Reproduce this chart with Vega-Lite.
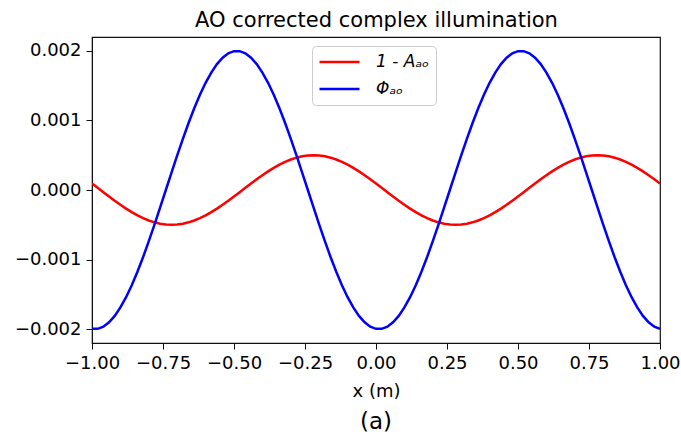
{
  "$schema": "https://vega.github.io/schema/vega-lite/v6.json",
  "width": 568,
  "height": 306,
  "autosize": "none",
  "padding": {"left": 92, "top": 37, "right": 21, "bottom": 93},
  "background": "white",
  "data": {
    "values": [
      {"x": -1.00, "a": 0.0000937, "p": -0.001996},
      {"x": -0.98, "a": 0.0000314, "p": -0.001996},
      {"x": -0.96, "a": -0.0000314, "p": -0.001965},
      {"x": -0.94, "a": -0.0000937, "p": -0.001902},
      {"x": -0.92, "a": -0.0001545, "p": -0.001810},
      {"x": -0.90, "a": -0.0002129, "p": -0.001689},
      {"x": -0.88, "a": -0.0002679, "p": -0.001541},
      {"x": -0.86, "a": -0.0003187, "p": -0.001369},
      {"x": -0.84, "a": -0.0003645, "p": -0.001176},
      {"x": -0.82, "a": -0.0004045, "p": -0.000964},
      {"x": -0.80, "a": -0.0004382, "p": -0.000736},
      {"x": -0.78, "a": -0.0004649, "p": -0.000497},
      {"x": -0.76, "a": -0.0004843, "p": -0.000251},
      {"x": -0.74, "a": -0.0004961, "p": 0},
      {"x": -0.72, "a": -0.0005, "p": 0.000251},
      {"x": -0.70, "a": -0.0004961, "p": 0.000497},
      {"x": -0.68, "a": -0.0004843, "p": 0.000736},
      {"x": -0.66, "a": -0.0004649, "p": 0.000964},
      {"x": -0.64, "a": -0.0004382, "p": 0.001176},
      {"x": -0.62, "a": -0.0004045, "p": 0.001369},
      {"x": -0.60, "a": -0.0003645, "p": 0.001541},
      {"x": -0.58, "a": -0.0003187, "p": 0.001689},
      {"x": -0.56, "a": -0.0002679, "p": 0.001810},
      {"x": -0.54, "a": -0.0002129, "p": 0.001902},
      {"x": -0.52, "a": -0.0001545, "p": 0.001965},
      {"x": -0.50, "a": -0.0000937, "p": 0.001996},
      {"x": -0.48, "a": -0.0000314, "p": 0.001996},
      {"x": -0.46, "a": 0.0000314, "p": 0.001965},
      {"x": -0.44, "a": 0.0000937, "p": 0.001902},
      {"x": -0.42, "a": 0.0001545, "p": 0.001810},
      {"x": -0.40, "a": 0.0002129, "p": 0.001689},
      {"x": -0.38, "a": 0.0002679, "p": 0.001541},
      {"x": -0.36, "a": 0.0003187, "p": 0.001369},
      {"x": -0.34, "a": 0.0003645, "p": 0.001176},
      {"x": -0.32, "a": 0.0004045, "p": 0.000964},
      {"x": -0.30, "a": 0.0004382, "p": 0.000736},
      {"x": -0.28, "a": 0.0004649, "p": 0.000497},
      {"x": -0.26, "a": 0.0004843, "p": 0.000251},
      {"x": -0.24, "a": 0.0004961, "p": 0},
      {"x": -0.22, "a": 0.0005, "p": -0.000251},
      {"x": -0.20, "a": 0.0004961, "p": -0.000497},
      {"x": -0.18, "a": 0.0004843, "p": -0.000736},
      {"x": -0.16, "a": 0.0004649, "p": -0.000964},
      {"x": -0.14, "a": 0.0004382, "p": -0.001176},
      {"x": -0.12, "a": 0.0004045, "p": -0.001369},
      {"x": -0.10, "a": 0.0003645, "p": -0.001541},
      {"x": -0.08, "a": 0.0003187, "p": -0.001689},
      {"x": -0.06, "a": 0.0002679, "p": -0.001810},
      {"x": -0.04, "a": 0.0002129, "p": -0.001902},
      {"x": -0.02, "a": 0.0001545, "p": -0.001965},
      {"x": 0.00, "a": 0.0000937, "p": -0.001996},
      {"x": 0.02, "a": 0.0000314, "p": -0.001996},
      {"x": 0.04, "a": -0.0000314, "p": -0.001965},
      {"x": 0.06, "a": -0.0000937, "p": -0.001902},
      {"x": 0.08, "a": -0.0001545, "p": -0.001810},
      {"x": 0.10, "a": -0.0002129, "p": -0.001689},
      {"x": 0.12, "a": -0.0002679, "p": -0.001541},
      {"x": 0.14, "a": -0.0003187, "p": -0.001369},
      {"x": 0.16, "a": -0.0003645, "p": -0.001176},
      {"x": 0.18, "a": -0.0004045, "p": -0.000964},
      {"x": 0.20, "a": -0.0004382, "p": -0.000736},
      {"x": 0.22, "a": -0.0004649, "p": -0.000497},
      {"x": 0.24, "a": -0.0004843, "p": -0.000251},
      {"x": 0.26, "a": -0.0004961, "p": 0},
      {"x": 0.28, "a": -0.0005, "p": 0.000251},
      {"x": 0.30, "a": -0.0004961, "p": 0.000497},
      {"x": 0.32, "a": -0.0004843, "p": 0.000736},
      {"x": 0.34, "a": -0.0004649, "p": 0.000964},
      {"x": 0.36, "a": -0.0004382, "p": 0.001176},
      {"x": 0.38, "a": -0.0004045, "p": 0.001369},
      {"x": 0.40, "a": -0.0003645, "p": 0.001541},
      {"x": 0.42, "a": -0.0003187, "p": 0.001689},
      {"x": 0.44, "a": -0.0002679, "p": 0.001810},
      {"x": 0.46, "a": -0.0002129, "p": 0.001902},
      {"x": 0.48, "a": -0.0001545, "p": 0.001965},
      {"x": 0.50, "a": -0.0000937, "p": 0.001996},
      {"x": 0.52, "a": -0.0000314, "p": 0.001996},
      {"x": 0.54, "a": 0.0000314, "p": 0.001965},
      {"x": 0.56, "a": 0.0000937, "p": 0.001902},
      {"x": 0.58, "a": 0.0001545, "p": 0.001810},
      {"x": 0.60, "a": 0.0002129, "p": 0.001689},
      {"x": 0.62, "a": 0.0002679, "p": 0.001541},
      {"x": 0.64, "a": 0.0003187, "p": 0.001369},
      {"x": 0.66, "a": 0.0003645, "p": 0.001176},
      {"x": 0.68, "a": 0.0004045, "p": 0.000964},
      {"x": 0.70, "a": 0.0004382, "p": 0.000736},
      {"x": 0.72, "a": 0.0004649, "p": 0.000497},
      {"x": 0.74, "a": 0.0004843, "p": 0.000251},
      {"x": 0.76, "a": 0.0004961, "p": 0},
      {"x": 0.78, "a": 0.0005, "p": -0.000251},
      {"x": 0.80, "a": 0.0004961, "p": -0.000497},
      {"x": 0.82, "a": 0.0004843, "p": -0.000736},
      {"x": 0.84, "a": 0.0004649, "p": -0.000964},
      {"x": 0.86, "a": 0.0004382, "p": -0.001176},
      {"x": 0.88, "a": 0.0004045, "p": -0.001369},
      {"x": 0.90, "a": 0.0003645, "p": -0.001541},
      {"x": 0.92, "a": 0.0003187, "p": -0.001689},
      {"x": 0.94, "a": 0.0002679, "p": -0.001810},
      {"x": 0.96, "a": 0.0002129, "p": -0.001902},
      {"x": 0.98, "a": 0.0001545, "p": -0.001965},
      {"x": 1.00, "a": 0.0000937, "p": -0.001996}
    ]
  },
  "transform": [{"fold": ["a", "p"], "as": ["series", "value"]}],
  "title": {
    "text": "(a)",
    "orient": "bottom",
    "anchor": "middle",
    "fontSize": 23,
    "font": "DejaVu Sans",
    "fontWeight": "normal",
    "color": "black",
    "offset": 11
  },
  "encoding": {
    "y": {
      "field": "value",
      "type": "quantitative",
      "scale": {"domain": [-0.0022, 0.0022], "nice": false, "zero": false},
      "axis": {
        "values": [-0.002, -0.001, 0, 0.001, 0.002],
        "format": ".3f",
        "title": null,
        "grid": false
      }
    }
  },
  "layer": [
    {
      "mark": {"type": "line", "strokeWidth": 2.5, "clip": true},
      "encoding": {
        "x": {
          "field": "x",
          "type": "quantitative",
          "scale": {"domain": [-1, 1], "nice": false, "zero": false},
          "axis": {
            "orient": "bottom",
            "values": [-1, -0.75, -0.5, -0.25, 0, 0.25, 0.5, 0.75, 1],
            "format": ".2f",
            "title": "x (m)",
            "grid": false,
            "titlePadding": 10
          }
        },
        "color": {
          "field": "series",
          "type": "nominal",
          "scale": {"domain": ["a", "p"], "range": ["#ff0000", "#0000ff"]},
          "legend": {
            "title": null,
            "labelExpr": "datum.value == 'a' ? '1 - Aₐₒ' : 'Φₐₒ'"
          }
        }
      }
    },
    {
      "mark": {"type": "line", "opacity": 0},
      "encoding": {
        "x": {
          "field": "x",
          "type": "quantitative",
          "axis": {
            "orient": "top",
            "labels": false,
            "ticks": false,
            "domain": false,
            "grid": false,
            "title": "AO corrected complex illumination",
            "titleFontSize": 21,
            "titlePadding": 7
          }
        },
        "detail": {"field": "series", "type": "nominal"}
      }
    }
  ],
  "resolve": {"axis": {"x": "independent"}},
  "config": {
    "font": "DejaVu Sans",
    "view": {"stroke": "#111111", "strokeWidth": 1.2},
    "axis": {
      "labelFont": "DejaVu Sans",
      "labelFontSize": 18,
      "labelColor": "black",
      "titleFont": "DejaVu Sans",
      "titleFontSize": 18,
      "titleFontWeight": "normal",
      "titleColor": "black",
      "domainColor": "#111111",
      "tickColor": "#111111",
      "tickSize": 6,
      "labelPadding": 5,
      "labelFlush": false
    },
    "legend": {
      "orient": "none",
      "legendX": 220,
      "legendY": 9,
      "direction": "vertical",
      "strokeColor": "#cccccc",
      "fillColor": "white",
      "cornerRadius": 4,
      "padding": 6,
      "symbolType": "stroke",
      "symbolSize": 1600,
      "symbolStrokeWidth": 2.5,
      "clipHeight": 20,
      "labelFont": "DejaVu Sans",
      "labelFontSize": 17,
      "labelFontStyle": "italic",
      "labelColor": "black",
      "labelOffset": 15,
      "rowPadding": 7
    }
  }
}
